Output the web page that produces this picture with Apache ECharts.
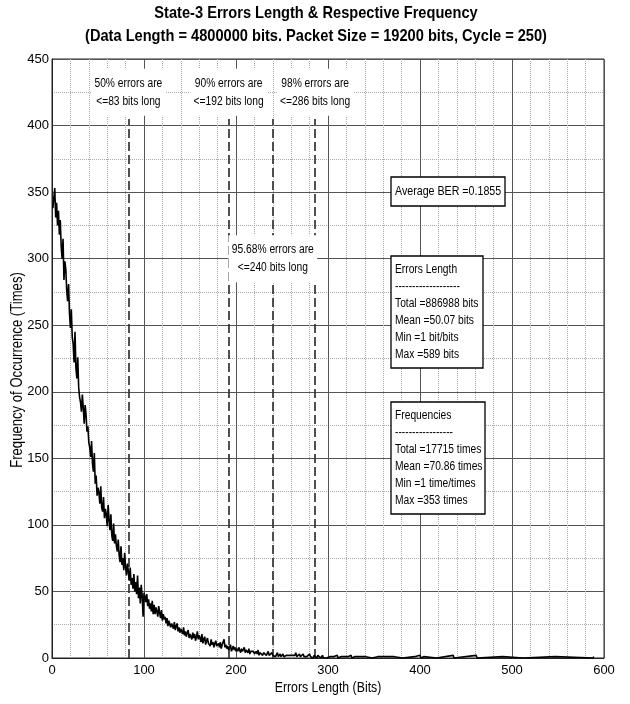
<!DOCTYPE html>
<html>
<head>
<meta charset="utf-8">
<script src="https://cdn.jsdelivr.net/npm/echarts@6/dist/echarts.min.js"></script>
<style>
  html, body { margin: 0; padding: 0; background: #fff; }
  #chart { width: 630px; height: 704px; }
</style>
</head>
<body>
<div id="chart"></div>
<script>
var FONT = "'Liberation Sans', Arial, sans-serif"
var NARROW = 0.82 // squeeze text to look like the narrow face of the original

// occurrences for error lengths 1..300
var freqHead = [
  338, 346, 353, 331, 342, 325, 336, 318, 329, 309,
  300, 315, 284, 298, 292, 276, 268, 281, 259, 248,
  262, 241, 236, 222, 245, 218, 210, 226, 203, 196,
  192, 185, 198, 188, 176, 190, 183, 170, 174, 162,
  158, 151, 163, 146, 140, 154, 131, 137, 122, 128,
  124, 116, 129, 113, 110, 121, 105, 112, 108, 99,
  115, 104, 96, 108, 92, 88, 101, 86, 93, 84,
  80, 89, 77, 72, 84, 70, 75, 66, 79, 68,
  62, 71, 65, 58, 68, 55, 60, 52, 63, 50,
  57, 48, 62, 45, 53, 41, 55, 47, 31, 49,
  46, 42, 48, 39, 44, 37, 41, 35, 43, 33,
  40, 33, 38, 35, 31, 39, 34, 30, 36, 28,
  33, 29, 31, 26, 30, 24, 28, 27, 23, 26,
  25, 22, 27, 21, 24, 26, 20, 23, 19, 22,
  21, 18, 23, 17, 20, 16, 19, 21, 15, 18,
  17, 14, 19, 15, 18, 13, 16, 20, 14, 17,
  15, 12, 18, 11, 14, 16, 10, 13, 15, 11,
  12, 9, 14, 10, 12, 8, 11, 13, 9, 10,
  11, 8, 12, 7, 10, 9, 14, 8, 10, 7,
  9, 6, 8, 10, 5, 7, 9, 6, 8, 5,
  7, 5, 8, 6, 4, 7, 5, 6, 8, 4,
  6, 5, 4, 7, 3, 5, 6, 4, 5, 3,
  4, 5, 3, 6, 2, 4, 3, 5, 2, 4,
  3, 4, 2, 3, 5, 2, 3, 1, 4, 2,
  2, 3, 1, 2, 4, 1, 2, 3, 1, 2,
  3, 1, 2, 1, 2, 3, 1, 2, 1, 2,
  2, 3, 1, 2, 4, 1, 2, 1, 3, 1,
  2, 1, 3, 1, 2, 0, 1, 2, 1, 3,
  1, 2, 1, 0, 2, 1, 1, 0, 2, 1,
  1, 0, 1, 2, 0, 1, 1, 0, 1, 0
]

// sparse tail (lengths > 300)
var tailLen = [302, 303, 306, 307, 310, 311, 314, 315, 318, 319, 322, 323, 325, 326, 329, 330, 331,
  334, 335, 341, 342, 348, 349, 350, 354, 355, 362, 363, 369, 370, 372, 373, 381, 382, 383,
  394, 395, 396, 400, 401, 404, 405, 418, 419, 420, 436, 437, 461, 462, 490, 491, 512, 513,
  514, 547, 548, 588, 589]
var tailFreq = [1, 0, 1, 0, 2, 0, 1, 0, 1, 0, 1, 0, 2, 0, 1, 1, 0,
  1, 0, 1, 0, 0, 1, 0, 1, 0, 1, 0, 1, 0, 1, 0, 0, 1, 0,
  1, 1, 0, 2, 0, 1, 0, 0, 1, 0, 2, 0, 2, 0, 1, 0, 0, 1,
  0, 1, 0, 0, 1]

var pctLen = [83, 192, 240, 286]
var pctText = [
  '50% errors are\n<=83 bits long',
  '90% errors are\n<=192 bits long',
  '95.68% errors are\n<=240 bits long',
  '98% errors are\n<=286 bits long'
]
var pctTextY = [425, 425, 300, 425]
var dashTop = 405

var xTicks = [0, 600, 100]
var yTicks = [0, 450, 50]

var titleLines = [
  'State-3 Errors Length & Respective Frequency',
  '(Data Length = 4800000 bits. Packet Size = 19200 bits, Cycle = 250)'
]
var berText = 'Average BER =0.1855'
var lenText = ['Errors Length', '-------------------', 'Total =886988 bits', 'Mean =50.07 bits', 'Min =1 bit/bits', 'Max =589 bits']
var freqText = ['Frequencies', '-----------------', 'Total =17715 times', 'Mean =70.86 times', 'Min =1 time/times', 'Max =353 times']

var data = []
for (var i = 0; i < freqHead.length; i++) data.push([i + 1, freqHead[i]])
for (var j = 0; j < tailLen.length; j++) data.push([tailLen[j], tailFreq[j]])

var markLines = []
for (var k = 0; k < pctLen.length; k++) {
  markLines.push([{ coord: [pctLen[k], 0] }, { coord: [pctLen[k], dashTop] }])
}

function narrowText (x, y, text, size, opts) {
  opts = opts || {}
  return {
    type: 'text',
    x: x,
    y: y,
    z: 100,
    scaleX: opts.scale || NARROW,
    rotation: opts.rotation || 0,
    style: {
      text: text,
      font: (opts.bold ? 'bold ' : '') + size + 'px ' + FONT,
      fill: '#000',
      lineHeight: opts.lineHeight,
      textAlign: opts.align || 'left',
      textVerticalAlign: opts.valign || 'top',
      backgroundColor: opts.bg,
      padding: opts.padding
    }
  }
}

function infoBox (x, y, w, h, text, size, lineHeight) {
  return [
    {
      type: 'rect',
      z: 99,
      shape: { x: x, y: y, width: w, height: h },
      style: { fill: '#fff', stroke: '#000', lineWidth: 1.3 }
    },
    narrowText(x + 4, y + 5, text, size, { lineHeight: lineHeight })
  ]
}

var chart = echarts.init(document.getElementById('chart'))

var option = {
  animation: false,
  backgroundColor: '#fff',
  grid: {
    left: 52,
    right: 26,
    top: 59,
    bottom: 46,
    show: true,
    borderColor: '#222',
    borderWidth: 1
  },
  xAxis: {
    type: 'value',
    min: xTicks[0],
    max: xTicks[1],
    interval: xTicks[2],
    axisLine: { show: true, onZero: false, lineStyle: { color: '#222' } },
    axisTick: { show: false },
    axisLabel: { fontFamily: FONT, fontSize: 13, color: '#000', margin: 6 },
    splitLine: { show: true, lineStyle: { color: '#555', width: 1 } },
    minorTick: { show: false, splitNumber: 5 },
    minorSplitLine: { show: true, lineStyle: { color: '#aaa', type: 'dotted', width: 1 } }
  },
  yAxis: {
    type: 'value',
    min: yTicks[0],
    max: yTicks[1],
    interval: yTicks[2],
    axisLine: { show: true, lineStyle: { color: '#222' } },
    axisTick: { show: false },
    axisLabel: { fontFamily: FONT, fontSize: 13, color: '#000', margin: 3 },
    splitLine: { show: true, lineStyle: { color: '#555', width: 1 } },
    minorTick: { show: false, splitNumber: 2 },
    minorSplitLine: { show: true, lineStyle: { color: '#aaa', type: 'dotted', width: 1 } }
  },
  series: [
    {
      type: 'line',
      data: data,
      showSymbol: false,
      symbol: 'none',
      lineStyle: { color: '#000', width: 1.6 },
      z: 5,
      markLine: {
        silent: true,
        symbol: ['none', 'none'],
        label: { show: false },
        lineStyle: { color: '#333', width: 1.7, type: [9, 4] },
        data: markLines
      }
    }
  ]
}

chart.setOption(option)

// text annotations, placed after the axes exist
var graphics = [
  narrowText(316, 13, titleLines[0], 17, { bold: true, align: 'center', valign: 'middle', scale: 0.86 }),
  narrowText(316, 36, titleLines[1], 17, { bold: true, align: 'center', valign: 'middle', scale: 0.86 }),
  narrowText(18, 370, 'Frequency of Occurrence (Times)', 16, { align: 'center', valign: 'middle', rotation: Math.PI / 2 }),
  narrowText(328, 688, 'Errors Length (Bits)', 15, { align: 'center', valign: 'middle' })
]

for (var m = 0; m < pctLen.length; m++) {
  var p = chart.convertToPixel({ gridIndex: 0 }, [pctLen[m], pctTextY[m]])
  graphics.push(narrowText(p[0], p[1], pctText[m], 12.5, {
    align: 'center', valign: 'middle', lineHeight: 18, bg: '#fff', padding: [6, 4, 5, 4]
  }))
}

graphics = graphics.concat(
  infoBox(391, 177, 114, 29, berText, 13, 18),
  infoBox(391, 256, 92, 112, lenText.join('\n'), 12.5, 17),
  infoBox(391, 402, 94, 112, freqText.join('\n'), 12.5, 17)
)

chart.setOption({ graphic: graphics })
</script>
</body>
</html>
